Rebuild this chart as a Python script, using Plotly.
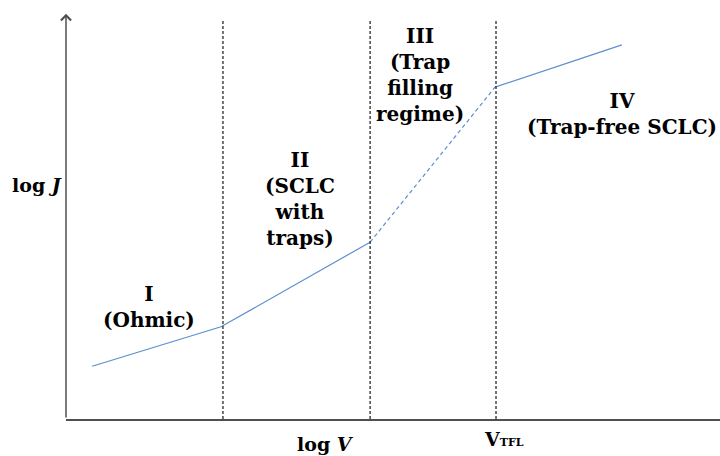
import plotly.graph_objects as go

# Schematic J–V curve on log–log axes (arbitrary units)
log_v = [0.40, 2.37, 4.65, 6.56, 8.50]
log_j = [1.26, 2.20, 4.22, 7.92, 8.93]

# Regime boundaries (log V) and the height of the guide lines
boundaries = [2.40, 4.65, 6.575]
guide_top = 9.52
axis_top = 9.67

# Regime labels: (text, x, y)
regime_labels = [
    ("I<br>(Ohmic)", 1.27, 2.68),
    ("II<br>(SCLC<br>with<br>traps)", 3.58, 5.25),
    ("III<br>(Trap<br>filling<br>regime)", 5.41, 8.21),
    ("IV<br>(Trap-free SCLC)", 8.50, 7.28),
]

LINE_COLOR = "#5b8fcf"
GUIDE_COLOR = "#2a2a2a"
AXIS_COLOR = "#505050"
FONT = "DejaVu Serif"

W, H = 720, 456
ML, MR, MT, MB = 66, 0, 0, 37
pw, ph = W - ML - MR, H - MT - MB


def px_to_paper(px, py):
    return (px - ML) / pw, (H - MB - py) / ph


fig = go.Figure()

# Ohmic and trap-limited SCLC segments (solid)
fig.add_trace(go.Scatter(x=log_v[0:3], y=log_j[0:3], mode="lines",
                         line=dict(color=LINE_COLOR, width=1.2), hoverinfo="skip"))
# Trap-filling transition (dashed)
fig.add_trace(go.Scatter(x=log_v[2:4], y=log_j[2:4], mode="lines",
                         line=dict(color=LINE_COLOR, width=1.2, dash="4px,3px"), hoverinfo="skip"))
# Trap-free SCLC segment (solid)
fig.add_trace(go.Scatter(x=log_v[3:5], y=log_j[3:5], mode="lines",
                         line=dict(color=LINE_COLOR, width=1.2), hoverinfo="skip"))

# Vertical dashed guides separating the regimes
for b in boundaries:
    fig.add_trace(go.Scatter(x=[b, b], y=[0, guide_top], mode="lines",
                             line=dict(color=GUIDE_COLOR, width=1.3, dash="3px,2px"),
                             hoverinfo="skip"))

annotations = []

# Vertical axis with an open arrowhead
annotations.append(dict(x=0, y=axis_top, ax=0, ay=0, xref="x", yref="y",
                        axref="x", ayref="y", showarrow=True, arrowhead=4,
                        arrowsize=1.3, arrowwidth=1.5, arrowcolor=AXIS_COLOR,
                        text=""))

for text, x, y in regime_labels:
    annotations.append(dict(x=x, y=y, xref="x", yref="y", text=f"<b>{text}</b>",
                            showarrow=False, align="center",
                            xanchor="center", yanchor="middle",
                            font=dict(family=FONT, size=20, color="black")))

# Axis titles
jx, jy = px_to_paper(37, 185)
annotations.append(dict(x=jx, y=jy, xref="paper", yref="paper",
                        text="<b>log <i>J</i></b>", showarrow=False,
                        xanchor="center", yanchor="middle",
                        font=dict(family=FONT, size=19, color="black")))
vx, vy = px_to_paper(325, 456)
annotations.append(dict(x=vx, y=vy, xref="paper", yref="paper",
                        text="<b>log <i>V</i></b>", showarrow=False,
                        xanchor="center", yanchor="bottom", borderpad=0,
                        font=dict(family=FONT, size=19, color="black")))
tx, ty = px_to_paper(482, 439)
annotations.append(dict(x=tx, y=ty, xref="paper", yref="paper",
                        text="<b>V<span style='font-size:11px'>TFL</span></b>",
                        showarrow=False, xanchor="left", yanchor="middle",
                        font=dict(family=FONT, size=19, color="black")))

fig.update_layout(
    width=W, height=H,
    margin=dict(l=ML, r=MR, t=MT, b=MB),
    paper_bgcolor="white", plot_bgcolor="white",
    showlegend=False,
    annotations=annotations,
    xaxis=dict(range=[0, 10], showgrid=False, zeroline=False, showticklabels=False,
               ticks="", showline=True, linecolor=AXIS_COLOR, linewidth=1.5),
    yaxis=dict(range=[0, 10], showgrid=False, zeroline=False, showticklabels=False,
               ticks="", showline=False),
)

fig.write_html("out.html")
